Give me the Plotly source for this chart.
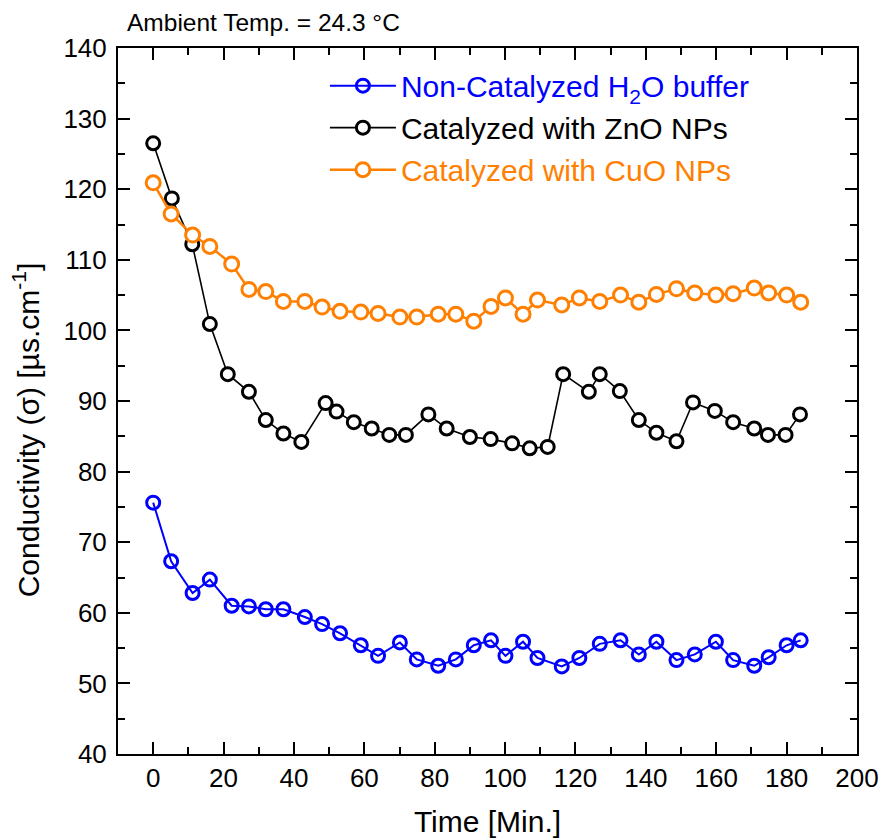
import plotly.graph_objects as go

# Sampling times [min] for the H2O buffer and CuO runs
t_h2o_cuo = [0.0, 5.1, 11.2, 16.1, 22.3, 27.2, 32.0, 37.0, 43.1, 48.0, 53.1, 59.0,
             63.9, 70.1, 74.9, 81.0, 86.0, 91.1, 96.0, 100.1, 105.1, 109.2, 116.1,
             121.1, 126.9, 132.8, 138.0, 143.0, 148.7, 153.9, 159.9, 164.8, 170.8,
             174.9, 180.0, 184.0]
# Sampling times [min] for the ZnO run
t_zno = [0.0, 5.3, 11.1, 16.1, 21.2, 27.2, 32.0, 37.0, 42.1, 49.0, 52.1, 57.0,
         62.1, 67.1, 71.8, 78.2, 83.4, 90.0, 95.9, 102.0, 107.0, 112.1, 116.5,
         123.8, 126.9, 132.6, 138.0, 143.0, 148.7, 153.4, 159.6, 164.8, 170.8,
         174.7, 179.7, 183.8]

# Conductivity [µs/cm]
sigma_h2o = [75.6, 67.3, 62.8, 64.7, 61.0, 60.9, 60.5, 60.5, 59.4, 58.4, 57.1, 55.4,
             53.9, 55.8, 53.4, 52.5, 53.4, 55.4, 56.1, 53.9, 55.9, 53.6, 52.4,
             53.6, 55.6, 56.1, 54.1, 55.9, 53.3, 54.1, 55.9, 53.3, 52.5, 53.7,
             55.4, 56.1]
sigma_zno = [126.5, 118.7, 112.2, 100.9, 93.8, 91.3, 87.3, 85.4, 84.2, 89.7, 88.5, 87.0,
             86.1, 85.2, 85.2, 88.1, 86.1, 84.9, 84.6, 84.0, 83.3, 83.5, 93.8,
             91.3, 93.8, 91.4, 87.3, 85.5, 84.3, 89.8, 88.6, 87.0, 86.1, 85.2,
             85.2, 88.1]
sigma_cuo = [120.9, 116.5, 113.5, 111.9, 109.4, 105.8, 105.5, 104.1, 104.1, 103.3, 102.7, 102.6,
             102.4, 101.9, 101.9, 102.3, 102.3, 101.3, 103.4, 104.6, 102.3, 104.3, 103.6,
             104.6, 104.1, 105.0, 104.0, 105.1, 105.9, 105.3, 105.0, 105.2, 106.0,
             105.3, 105.0, 104.0]

BLUE = "#0000ff"
BLACK = "#000000"
ORANGE = "#ff8000"
FONT = "Liberation Sans, Arial, sans-serif"

fig = go.Figure()

fig.add_trace(go.Scatter(
    x=t_h2o_cuo, y=sigma_h2o, mode="lines+markers",
    name=f"<span style='color:{BLUE}'>Non-Catalyzed H<sub>2</sub>O buffer</span>",
    line=dict(color=BLUE, width=2),
    marker=dict(symbol="circle-open", size=13, color=BLUE, line=dict(width=3, color=BLUE)),
))
fig.add_trace(go.Scatter(
    x=t_zno, y=sigma_zno, mode="lines+markers",
    name=f"<span style='color:{BLACK}'>Catalyzed with ZnO NPs</span>",
    line=dict(color=BLACK, width=1.6),
    marker=dict(symbol="circle", size=13, color="white", line=dict(width=3, color=BLACK)),
))
fig.add_trace(go.Scatter(
    x=t_h2o_cuo, y=sigma_cuo, mode="lines+markers",
    name=f"<span style='color:{ORANGE}'>Catalyzed with CuO NPs</span>",
    line=dict(color=ORANGE, width=2.5),
    marker=dict(symbol="circle", size=14, color="white", line=dict(width=3, color=ORANGE)),
))

axis_common = dict(
    showline=True, linecolor="black", linewidth=2, mirror="allticks",
    ticks="inside", ticklen=12, tickwidth=2, tickcolor="black",
    showgrid=False, zeroline=False, automargin=False,
    tickfont=dict(family=FONT, size=26, color="black"),
)

fig.update_xaxes(
    range=[-10, 200], tick0=0, dtick=20,
    minor=dict(dtick=10, ticks="inside", ticklen=7, tickwidth=2, tickcolor="black"),
    title=dict(text="Time [Min.]", font=dict(family=FONT, size=30, color="black"), standoff=20),
    **axis_common,
)
fig.update_yaxes(
    range=[40, 140], tick0=40, dtick=10, ticklabelstandoff=4,
    minor=dict(dtick=5, ticks="inside", ticklen=7, tickwidth=2, tickcolor="black"),
    **axis_common,
)

# y-axis title, set slightly below the axis centre
fig.add_annotation(
    text="Conductivity (σ) [µs.cm<sup>-1</sup>]", textangle=-90,
    xref="paper", yref="paper", x=-0.124, y=0.459,
    xanchor="center", yanchor="middle", showarrow=False,
    font=dict(family=FONT, size=30, color="black"),
)

fig.add_annotation(
    text="Ambient Temp. = 24.3 °C", xref="paper", yref="paper",
    x=0.009, y=1.0365, xanchor="left", yanchor="middle", showarrow=False,
    font=dict(family=FONT, size=24.5, color="black"),
)

fig.update_layout(
    width=880, height=838,
    margin=dict(l=118, r=23, t=48, b=84),
    paper_bgcolor="white", plot_bgcolor="white",
    showlegend=True,
    legend=dict(x=0.28, y=0.9835, xanchor="left", yanchor="top",
                bgcolor="rgba(0,0,0,0)", font=dict(family=FONT, size=30),
                tracegroupgap=0, itemwidth=66),
)

fig.write_html("out.html")
